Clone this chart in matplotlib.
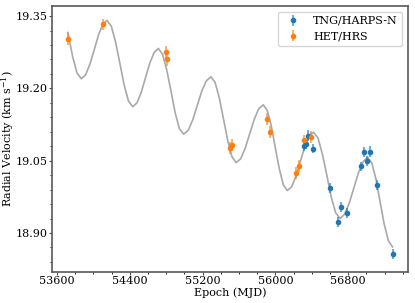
import numpy as np
import matplotlib
matplotlib.use("Agg")
import matplotlib.pyplot as plt
from matplotlib.ticker import MultipleLocator

plt.rcParams['font.family'] = ['DejaVu Serif']
plt.rcParams['mathtext.fontset'] = 'dejavuserif'

# TNG/HARPS-N
tng_mjd = [56315, 56333, 56355, 56410, 56600, 56692, 56725, 56784,
           56938, 56974, 57010, 57040, 57114, 57289]
tng_rv = [19.081, 19.085, 19.102, 19.075, 18.993, 18.923, 18.954, 18.942,
          19.038, 19.068, 19.050, 19.069, 19.000, 18.857]
tng_err = [0.010, 0.010, 0.011, 0.010, 0.010, 0.011, 0.010, 0.010,
           0.010, 0.011, 0.010, 0.011, 0.010, 0.010]

# HET/HRS
het_mjd = [53724, 54106, 54803, 54808, 55498, 55527, 55905, 55941,
           56227, 56260, 56318, 56391]
het_rv = [19.302, 19.333, 19.276, 19.260, 19.076, 19.083, 19.136, 19.110,
          19.024, 19.039, 19.092, 19.099]
het_err = [0.012, 0.012, 0.013, 0.013, 0.012, 0.012, 0.012, 0.012,
           0.012, 0.012, 0.012, 0.012]

# fitted model
model_mjd = [53720, 53726, 53773, 53820, 53867,
             53914, 53961, 54009, 54056, 54103, 54150,
             54197, 54244, 54291, 54338, 54385, 54432,
             54479, 54526, 54572, 54619, 54666, 54713,
             54760, 54806, 54853, 54899, 54946, 54992,
             55042, 55092, 55142, 55192, 55242, 55292,
             55338, 55384, 55431, 55477, 55523, 55569,
             55619, 55668, 55718, 55768, 55817, 55867,
             55911, 55955, 55999, 56043, 56087, 56131,
             56179, 56227, 56275, 56323, 56371, 56419,
             56468, 56516, 56565, 56613, 56662, 56710,
             56761, 56812, 56863, 56913, 56964, 57015,
             57060, 57106, 57151, 57196, 57242, 57287]
model_rv = [19.316, 19.310, 19.265, 19.232, 19.220,
            19.228, 19.250, 19.280, 19.311, 19.333, 19.341,
            19.329, 19.296, 19.252, 19.207, 19.174, 19.162,
            19.170, 19.192, 19.222, 19.252, 19.274, 19.283,
            19.271, 19.238, 19.194, 19.149, 19.116, 19.105,
            19.113, 19.135, 19.165, 19.195, 19.216, 19.224,
            19.212, 19.180, 19.135, 19.091, 19.058, 19.046,
            19.054, 19.076, 19.106, 19.136, 19.158, 19.166,
            19.154, 19.122, 19.077, 19.033, 19.000, 18.988,
            18.996, 19.018, 19.049, 19.079, 19.101, 19.109,
            19.097, 19.064, 19.020, 18.975, 18.942, 18.930,
            18.939, 18.962, 18.994, 19.025, 19.048, 19.057,
            19.045, 19.011, 18.964, 18.918, 18.884, 18.871]

fig = plt.figure(figsize=(4.15, 3.03), dpi=100)
ax = fig.add_axes([0.1253, 0.1023, 0.8578, 0.8779])

ax.plot(model_mjd, model_rv, color='darkgray', lw=1.2, zorder=1)

for x, y, e, c, lab in [(tng_mjd, tng_rv, tng_err, 'C0', 'TNG/HARPS-N'),
                        (het_mjd, het_rv, het_err, 'C1', 'HET/HRS')]:
    eb = ax.errorbar(x, y, yerr=e, fmt='o', ms=3, color=c, elinewidth=1.5,
                     label=lab, zorder=3)
    for bar in eb[2]:
        bar.set_alpha(0.6)

ax.set_xlim(53545, 57457)
ax.set_ylim(18.819, 19.371)
ax.xaxis.set_major_locator(MultipleLocator(800))
ax.xaxis.set_minor_locator(MultipleLocator(200))
ax.set_yticks([18.90, 19.05, 19.20, 19.35])
ax.yaxis.set_minor_locator(MultipleLocator(0.03))
ax.yaxis.set_major_formatter(matplotlib.ticker.FormatStrFormatter('%.2f'))
ax.tick_params(labelsize=8, colors='0.3', labelcolor='black', length=2, pad=1)
ax.tick_params(which='minor', length=1.3)

for s in ax.spines.values():
    s.set_color('0.35')
    s.set_linewidth(1.2)

ax.set_xlabel('Epoch (MJD)', fontsize=8)
ax.set_ylabel('Radial Velocity (km s$^{-1}$)', fontsize=8)
ax.xaxis.set_label_coords(0.5, -0.058)
ax.yaxis.set_label_coords(-0.1, 0.5)
ax.legend(loc='upper right', fontsize=8)

fig.savefig('out.png', dpi=100)
